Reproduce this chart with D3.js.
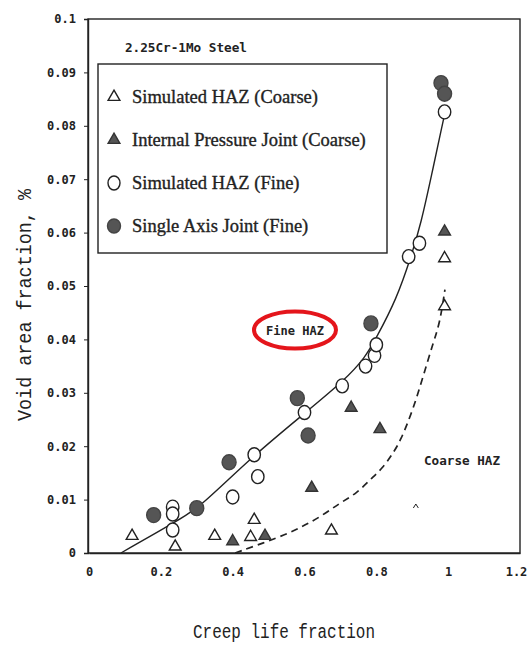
<!DOCTYPE html>
<html>
<head>
<meta charset="utf-8">
<script src="https://cdn.jsdelivr.net/npm/d3@7/dist/d3.min.js"></script>
<style>
  body { margin: 0; background: #fff; }
</style>
</head>
<body>
<div id="chart"></div>
<script>
// ticks
const xTicks = [0, 0.2, 0.4, 0.6, 0.8, 1, 1.2];
const yTicks = [0, 0.01, 0.02, 0.03, 0.04, 0.05, 0.06, 0.07, 0.08, 0.09, 0.1];

// Simulated HAZ (Coarse) - open triangles
const simCoarse = [
  [0.12, 0.003], [0.24, 0.001], [0.35, 0.003], [0.46, 0.006], [0.45, 0.0028],
  [0.675, 0.004], [0.99, 0.046], [0.99, 0.055]
];
// Internal Pressure Joint (Coarse) - filled triangles
const ipjCoarse = [
  [0.40, 0.002], [0.49, 0.003], [0.62, 0.012], [0.73, 0.027], [0.81, 0.023], [0.99, 0.060]
];
// Simulated HAZ (Fine) - open circles
const simFine = [
  [0.233, 0.0086], [0.233, 0.0073], [0.233, 0.0043], [0.40, 0.0105], [0.47, 0.0143],
  [0.46, 0.0184], [0.60, 0.0263], [0.705, 0.0313], [0.77, 0.035], [0.795, 0.037],
  [0.80, 0.039], [0.89, 0.0555], [0.92, 0.058], [0.99, 0.0826]
];
// Single Axis Joint (Fine) - filled circles
const saFine = [
  [0.18, 0.0071], [0.30, 0.0084], [0.39, 0.017], [0.58, 0.029], [0.61, 0.022],
  [0.785, 0.043], [0.98, 0.088], [0.99, 0.086]
];
// faint stray mark near Coarse HAZ label
const strayMarks = [[0.91, 0.0088]];

// fitted curves
const fineCurve = [
  [0.089, 0], [0.25, 0.0062], [0.306, 0.0084], [0.453, 0.018], [0.603, 0.0263],
  [0.714, 0.0325], [0.769, 0.0366], [0.80, 0.0403], [0.856, 0.0475], [0.897, 0.0555],
  [0.925, 0.0619], [0.953, 0.0705], [0.986, 0.0809], [0.988, 0.0815]
];
const coarseCurve = [
  [0.407, 0], [0.532, 0.003], [0.587, 0.0047], [0.643, 0.0067], [0.699, 0.0094],
  [0.746, 0.0112], [0.782, 0.0137], [0.818, 0.0159], [0.846, 0.0187], [0.866, 0.0208],
  [0.902, 0.0268], [0.930, 0.033], [0.958, 0.0393], [0.977, 0.0431], [0.991, 0.0493]
];

const legendLabels = [
  "Simulated HAZ (Coarse)",
  "Internal Pressure Joint (Coarse)",
  "Simulated HAZ (Fine)",
  "Single Axis Joint (Fine)"
];
const legendKinds = ["triOpen", "triFill", "circOpen", "circFill"];

const width = 529, height = 645;
const INK = "#222";
const GREY = "#555";

const svg = d3.select("#chart").append("svg")
  .attr("width", width)
  .attr("height", height)
  .attr("viewBox", `0 0 ${width} ${height}`);

const x = d3.scaleLinear().domain([0, 1.2]).range([89, 520]);
const y = d3.scaleLinear().domain([0, 0.1]).range([553, 19]);

// frame
svg.append("rect")
  .attr("x", x(0) - 1).attr("y", y(0.1))
  .attr("width", x(1.2) - x(0) + 1).attr("height", y(0) - y(0.1))
  .attr("fill", "none").attr("stroke", INK).attr("stroke-width", 1.4);

// axes
const xAxis = d3.axisBottom(x).tickValues(xTicks).tickFormat(d => String(d)).tickSize(0).tickPadding(14);
const yAxis = d3.axisLeft(y).tickValues(yTicks).tickFormat(d => String(d)).tickSize(4).tickPadding(8);

const gx = svg.append("g").attr("transform", `translate(0,${y(0)})`).call(xAxis);
const gy = svg.append("g").attr("transform", `translate(${x(0) - 1},0)`).call(yAxis);
[gx, gy].forEach(g => {
  g.select(".domain").attr("stroke", INK).attr("stroke-width", 1.4);
  g.selectAll(".tick line").attr("stroke", INK);
  g.selectAll("text")
    .attr("fill", INK)
    .style("font-family", "'DejaVu Sans Mono', monospace")
    .style("font-weight", "bold")
    .style("font-size", "12px");
});
// last x label sits against the window edge
gx.selectAll(".tick text").filter(d => d === 1.2).attr("dx", -4);

// axis titles
svg.append("text")
  .attr("transform", `translate(31,305) rotate(-90)`)
  .attr("text-anchor", "middle")
  .attr("textLength", 232).attr("lengthAdjust", "spacingAndGlyphs")
  .style("font-family", "'Liberation Mono', monospace")
  .style("font-size", "21px")
  .attr("fill", INK)
  .text("Void area fraction, %");

svg.append("text")
  .attr("x", 284).attr("y", 638)
  .attr("text-anchor", "middle")
  .attr("textLength", 182).attr("lengthAdjust", "spacingAndGlyphs")
  .style("font-family", "'Liberation Mono', monospace")
  .style("font-size", "20px")
  .attr("fill", INK)
  .text("Creep life fraction");

// curves (B-spline smooths the hand-read points)
const line = d3.line().x(d => x(d[0])).y(d => y(d[1])).curve(d3.curveBasis);

svg.append("path")
  .datum(fineCurve)
  .attr("d", line)
  .attr("fill", "none").attr("stroke", INK).attr("stroke-width", 1.4);

svg.append("path")
  .datum(coarseCurve)
  .attr("d", line)
  .attr("fill", "none").attr("stroke", INK).attr("stroke-width", 1.7)
  .attr("stroke-dasharray", "7,5");

// marker helpers
const tri = d3.symbol().type(d3.symbolTriangle).size(60);

function drawMarks(data, kind) {
  const g = svg.append("g");
  if (kind === "triOpen" || kind === "triFill") {
    g.selectAll("path").data(data).join("path")
      .attr("d", tri)
      .attr("transform", d => `translate(${x(d[0])},${y(d[1]) - 1})`)
      .attr("fill", kind === "triFill" ? GREY : "#fff")
      .attr("stroke", kind === "triFill" ? "#333" : INK)
      .attr("stroke-width", 1.4);
  } else {
    g.selectAll("ellipse").data(data).join("ellipse")
      .attr("cx", d => x(d[0])).attr("cy", d => y(d[1]))
      .attr("rx", kind === "circFill" ? 7 : 6.2)
      .attr("ry", kind === "circFill" ? 7.5 : 7)
      .attr("fill", kind === "circFill" ? GREY : "#fff")
      .attr("stroke", kind === "circFill" ? "#444" : INK)
      .attr("stroke-width", 1.4);
  }
}

drawMarks(simCoarse, "triOpen");
drawMarks(ipjCoarse, "triFill");
drawMarks(simFine, "circOpen");
drawMarks(saFine, "circFill");

svg.append("g").selectAll("path").data(strayMarks).join("path")
  .attr("d", d => `M${x(d[0]) - 2.5},${y(d[1]) + 2}L${x(d[0])},${y(d[1]) - 2}L${x(d[0]) + 2.5},${y(d[1]) + 2}`)
  .attr("fill", "none").attr("stroke", INK).attr("stroke-width", 1);

// title
svg.append("text")
  .attr("x", 125).attr("y", 52)
  .attr("textLength", 122).attr("lengthAdjust", "spacingAndGlyphs")
  .style("font-family", "'DejaVu Sans Mono', monospace")
  .style("font-weight", "bold")
  .style("font-size", "13px")
  .attr("fill", INK)
  .text("2.25Cr-1Mo Steel");

// legend box
svg.append("rect")
  .attr("x", 98).attr("y", 64).attr("width", 289).attr("height", 189)
  .attr("fill", "#fff").attr("stroke", INK).attr("stroke-width", 1.4);

const legend = svg.append("g");
const legendY = d3.scalePoint().domain(d3.range(legendLabels.length)).range([97, 226]);

legendLabels.forEach((label, i) => {
  const ly = legendY(i);
  const kind = legendKinds[i];
  if (kind.startsWith("tri")) {
    legend.append("path")
      .attr("d", tri)
      .attr("transform", `translate(114,${ly})`)
      .attr("fill", kind === "triFill" ? GREY : "#fff")
      .attr("stroke", kind === "triFill" ? "#333" : INK)
      .attr("stroke-width", 1.4);
  } else {
    legend.append("ellipse")
      .attr("cx", 114).attr("cy", ly)
      .attr("rx", kind === "circFill" ? 6.5 : 6).attr("ry", 7)
      .attr("fill", kind === "circFill" ? GREY : "#fff")
      .attr("stroke", kind === "circFill" ? "#444" : INK)
      .attr("stroke-width", 1.4);
  }
  legend.append("text")
    .attr("x", 132).attr("y", ly + 6)
    .style("font-family", "'Liberation Serif', serif")
    .style("font-size", "18.5px")
    .attr("fill", INK)
    .attr("stroke", INK).attr("stroke-width", 0.35)
    .text(label);
});

// annotations
svg.append("text")
  .attr("x", 295).attr("y", 335)
  .attr("text-anchor", "middle")
  .attr("textLength", 58).attr("lengthAdjust", "spacingAndGlyphs")
  .style("font-family", "'DejaVu Sans Mono', monospace")
  .style("font-weight", "bold")
  .style("font-size", "13px")
  .attr("fill", INK)
  .text("Fine HAZ");

svg.append("ellipse")
  .attr("cx", 295).attr("cy", 330).attr("rx", 41).attr("ry", 18.5)
  .attr("fill", "none").attr("stroke", "#e4151b").attr("stroke-width", 4);

svg.append("text")
  .attr("x", 462).attr("y", 465)
  .attr("text-anchor", "middle")
  .attr("textLength", 76).attr("lengthAdjust", "spacingAndGlyphs")
  .style("font-family", "'DejaVu Sans Mono', monospace")
  .style("font-weight", "bold")
  .style("font-size", "13px")
  .attr("fill", INK)
  .text("Coarse HAZ");
</script>
</body>
</html>
